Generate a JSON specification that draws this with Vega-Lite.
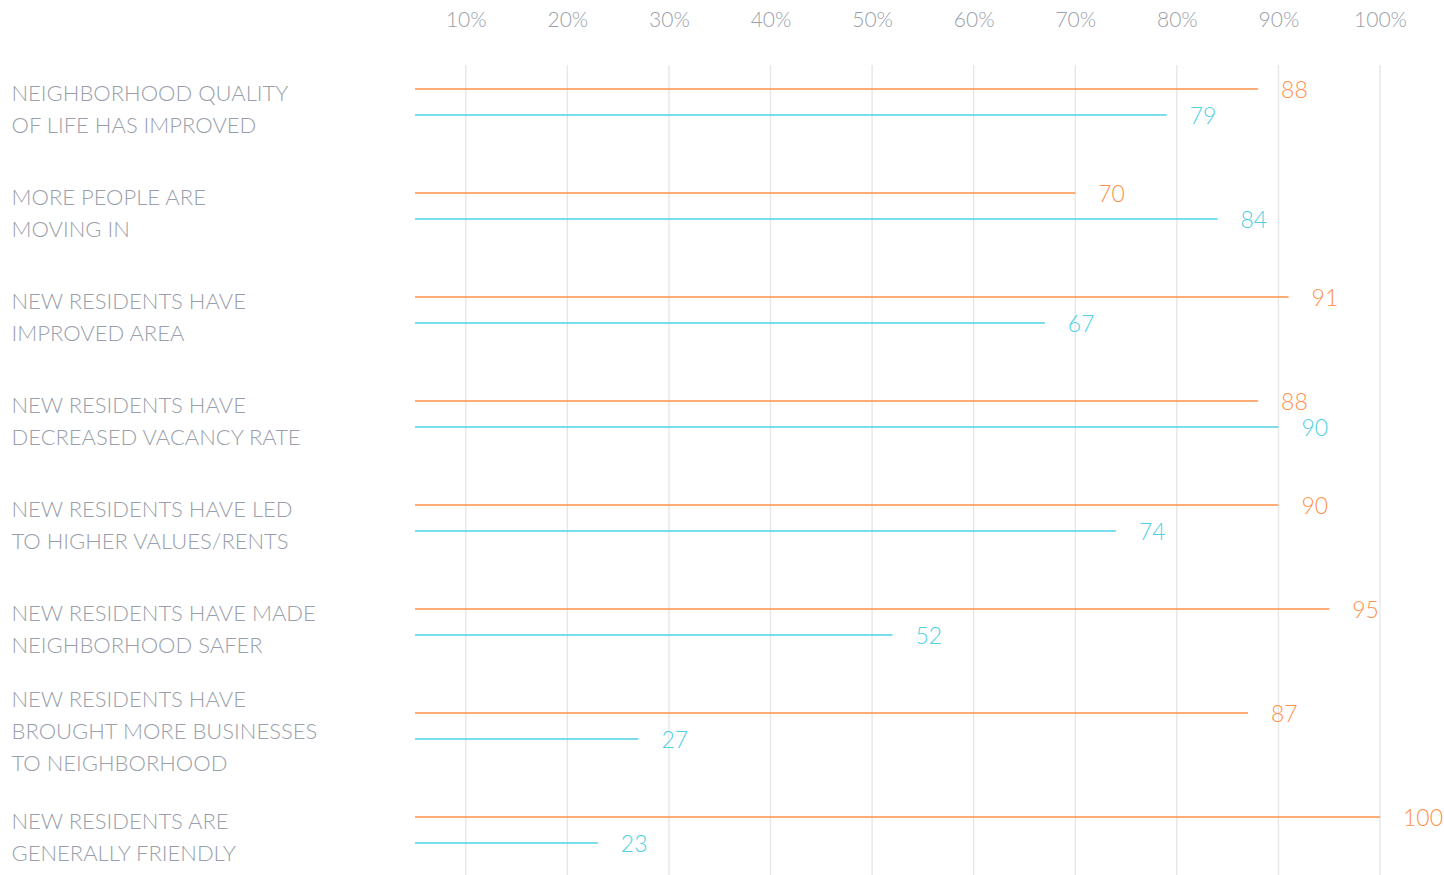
{
  "$schema": "https://vega.github.io/schema/vega-lite/v6.json",
  "autosize": {"type": "none"},
  "padding": {"left": 415, "top": 65, "right": 0, "bottom": 0},
  "width": 1029,
  "height": 810,
  "background": "white",
  "config": {"view": {"stroke": null}, "font": "Lato"},
  "datasets": {
    "survey": [
      {"cat": "NEIGHBORHOOD QUALITY|OF LIFE HAS IMPROVED", "series": "A", "value": 88},
      {"cat": "NEIGHBORHOOD QUALITY|OF LIFE HAS IMPROVED", "series": "B", "value": 79},
      {"cat": "MORE PEOPLE ARE|MOVING IN", "series": "A", "value": 70},
      {"cat": "MORE PEOPLE ARE|MOVING IN", "series": "B", "value": 84},
      {"cat": "NEW RESIDENTS HAVE|IMPROVED AREA", "series": "A", "value": 91},
      {"cat": "NEW RESIDENTS HAVE|IMPROVED AREA", "series": "B", "value": 67},
      {"cat": "NEW RESIDENTS HAVE|DECREASED VACANCY RATE", "series": "A", "value": 88},
      {"cat": "NEW RESIDENTS HAVE|DECREASED VACANCY RATE", "series": "B", "value": 90},
      {"cat": "NEW RESIDENTS HAVE LED|TO HIGHER VALUES/RENTS", "series": "A", "value": 90},
      {"cat": "NEW RESIDENTS HAVE LED|TO HIGHER VALUES/RENTS", "series": "B", "value": 74},
      {"cat": "NEW RESIDENTS HAVE MADE|NEIGHBORHOOD SAFER", "series": "A", "value": 95},
      {"cat": "NEW RESIDENTS HAVE MADE|NEIGHBORHOOD SAFER", "series": "B", "value": 52},
      {"cat": "NEW RESIDENTS HAVE|BROUGHT MORE BUSINESSES|TO NEIGHBORHOOD", "series": "A", "value": 87},
      {"cat": "NEW RESIDENTS HAVE|BROUGHT MORE BUSINESSES|TO NEIGHBORHOOD", "series": "B", "value": 27},
      {"cat": "NEW RESIDENTS ARE|GENERALLY FRIENDLY", "series": "A", "value": 100},
      {"cat": "NEW RESIDENTS ARE|GENERALLY FRIENDLY", "series": "B", "value": 23}
    ],
    "gridpct": [
      {"pct": 10}, {"pct": 20}, {"pct": 30}, {"pct": 40}, {"pct": 50},
      {"pct": 60}, {"pct": 70}, {"pct": 80}, {"pct": 90}, {"pct": 100}
    ]
  },
  "layer": [
    {
      "data": {"name": "gridpct"},
      "mark": {"type": "rule", "color": "#e8e8e8", "strokeWidth": 1.5},
      "encoding": {
        "x": {
          "field": "pct",
          "type": "quantitative",
          "scale": {"domain": [5, 106.3], "zero": false, "nice": false},
          "axis": {
            "title": null,
            "orient": "top",
            "values": [10, 20, 30, 40, 50, 60, 70, 80, 90, 100],
            "labelExpr": "datum.value + '%'",
            "domain": false,
            "ticks": false,
            "tickSize": 0,
            "grid": false,
            "labelPadding": 45,
            "labelBaseline": "middle",
            "labelFont": "Lato",
            "labelFontSize": 21,
            "labelFontWeight": 300,
            "labelColor": "#9a9fab"
          }
        }
      }
    },
    {
      "data": {"name": "survey"},
      "encoding": {
        "y": {
          "field": "cat",
          "type": "nominal",
          "sort": null,
          "scale": {"range": [-15, 817], "paddingInner": 0, "paddingOuter": 0},
          "axis": {
            "title": null,
            "orient": "left",
            "domain": false,
            "ticks": false,
            "tickSize": 0,
            "grid": false,
            "labelAlign": "left",
            "labelBaseline": "middle",
            "labelPadding": 404,
            "labelOffset": {"condition": {"test": "length(split(datum.value, '|')) > 2", "value": -26}, "value": -8.5},
            "labelLimit": 0,
            "labelFont": "Lato",
            "labelFontSize": 22,
            "labelFontWeight": 300,
            "labelColor": "#9a9fab",
            "labelLineHeight": 32,
            "labelExpr": "split(datum.label, '|')"
          }
        },
        "yOffset": {
          "field": "series",
          "type": "nominal",
          "scale": {"paddingInner": 0, "paddingOuter": 1.1}
        },
        "x": {
          "field": "value",
          "type": "quantitative",
          "scale": {"domain": [5, 106.3], "zero": false, "nice": false},
          "axis": {
            "title": null,
            "orient": "top",
            "values": [10, 20, 30, 40, 50, 60, 70, 80, 90, 100],
            "labelExpr": "datum.value + '%'",
            "domain": false,
            "ticks": false,
            "tickSize": 0,
            "grid": false,
            "labelPadding": 45,
            "labelBaseline": "middle",
            "labelFont": "Lato",
            "labelFontSize": 21,
            "labelFontWeight": 300,
            "labelColor": "#9a9fab"
          }
        },
        "color": {
          "field": "series",
          "type": "nominal",
          "legend": null,
          "scale": {"domain": ["A", "B"], "range": ["#ff9149", "#4fd0e3"]}
        }
      },
      "layer": [
        {
          "mark": {"type": "rule", "strokeWidth": 1.5},
          "encoding": {"x2": {"datum": 5}}
        },
        {
          "mark": {"type": "text", "align": "left", "baseline": "middle", "dx": 23, "dy": 2, "fontSize": 23, "font": "Lato", "fontWeight": 300},
          "encoding": {"text": {"field": "value", "type": "quantitative"}}
        }
      ]
    }
  ]
}
